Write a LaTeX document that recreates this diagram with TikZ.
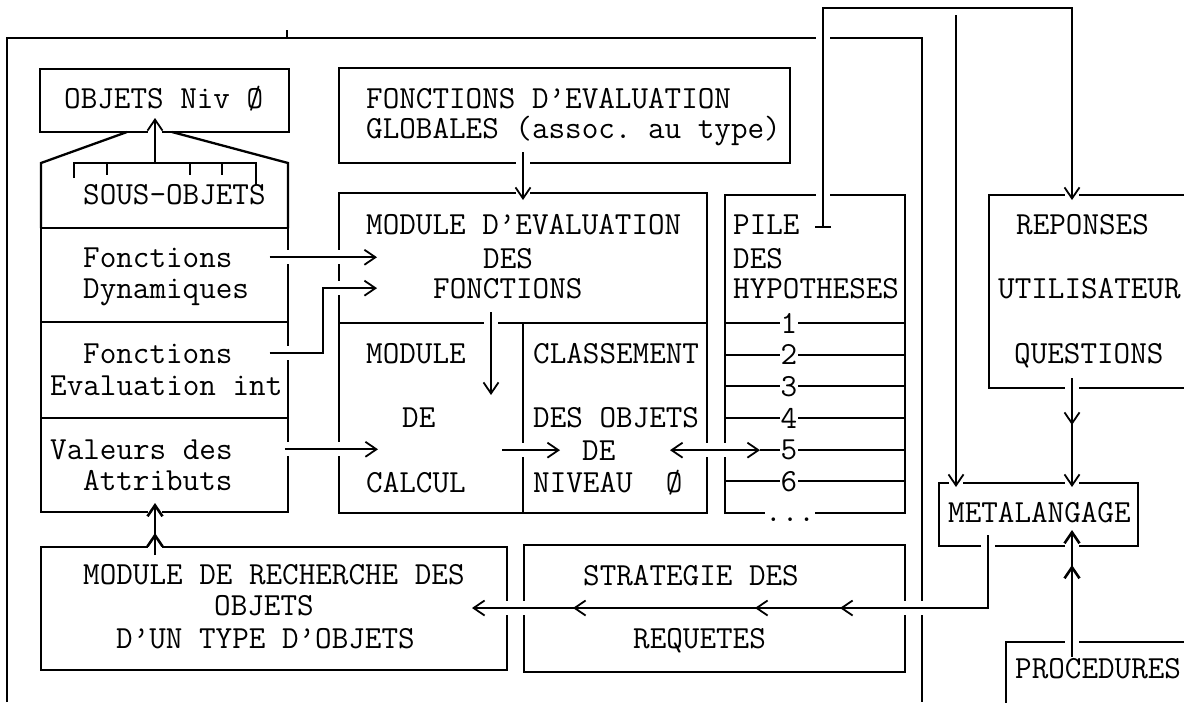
\documentclass[tikz,border=0pt]{standalone}
\usepackage{fontspec}
\usetikzlibrary{arrows.meta,calc,decorations.markings}
\pgfdeclarelayer{background}
\pgfsetlayers{background,main}

\newcommand\tw{\ttfamily\fontsize{32.2}{33}\selectfont\frenchspacing}

\tikzset{
  box/.style={draw, line width=2.3pt, inner sep=0pt, outer sep=0pt, anchor=north west},
  txt/.style={font=\tw, inner sep=0pt, anchor=base west},
  wire/.style={line width=1.8pt, preaction={draw=white, line width=14pt, -}},
  heavy/.style={line width=2.6pt},
  midhead/.style={postaction={decorate},
    decoration={markings, mark=at position #1 with {\arrow{>}}}},
  >={Straight Barb[length=11pt,width=15pt]}
}

\begin{document}
\begin{tikzpicture}[x=1pt,y=-1pt]
\useasboundingbox (0,0) rectangle (1184,702);

% textes
\node[txt] (objt) at (64,108) {OBJETS Niv Ø};
\node[txt] (sous) at (83,204) {SOUS-OBJETS};
\node[txt] (fonc1) at (83,267) {Fonctions};
\node[txt] (dyna) at (83,298) {Dynamiques};
\node[txt] (fonc2) at (83,363) {Fonctions};
\node[txt] (evint) at (50,395) {Evaluation int};
\node[txt] (valt) at (50,459) {Valeurs des};
\node[txt] (attr) at (83,490) {Attributs};
\node[txt] (globt) at (366,108) {FONCTIONS D’EVALUATION};
\node[txt] (globt2) at (366,138) {GLOBALES (assoc. au type)};
\node[txt] (mevt) at (366,234) {MODULE D’EVALUATION};
\node[txt] (mevt2) at (483,268) {DES};
\node[txt] (mevt3) at (433,298) {FONCTIONS};
\node[txt] (calt) at (366,363) {MODULE};
\node[txt] (calt2) at (402,427) {DE};
\node[txt] (calt3) at (366,492) {CALCUL};
\node[txt] (clat) at (533,363) {CLASSEMENT};
\node[txt] (clat2) at (533,427) {DES OBJETS};
\node[txt] (clat3) at (582,460) {DE};
\node[txt] (clat4) at (533,492) {NIVEAU\ \ Ø};
\node[txt] (pilet) at (733,234) {PILE};
\node[txt] (pilet2) at (733,268) {DES};
\node[txt] (pilet3) at (733,298) {HYPOTHESES};
\node[txt] (rept) at (1016,234) {REPONSES};
\node[txt] (rept2) at (998,298) {UTILISATEUR};
\node[txt] (rept3) at (1014,363) {QUESTIONS};
\node[txt] (metat) at (948,522) {METALANGAGE};
\node[txt] (proct) at (1015,678) {PROCEDURES};
\node[txt] (recht) at (83,584) {MODULE DE RECHERCHE DES};
\node[txt] (recht2) at (214,615) {OBJETS};
\node[txt] (recht3) at (116,648) {D’UN TYPE D’OBJETS};
\node[txt] (stratt) at (583,585) {STRATEGIE DES};
\node[txt] (stratt2) at (633,648) {REQUETES};

\begin{pgfonlayer}{background}
% cadre general
\draw[line width=2pt] (7,702) -- (7,38) -- (922,38) -- (922,702);
\draw[line width=1.5pt] (287,30) -- (287,38);

% boites
\node[box, minimum width=249pt, minimum height=63pt] (obj) at (40,69) {};
\node[box, minimum width=247pt, minimum height=94pt] (dyn) at (41,228) {};
\node[box, minimum width=247pt, minimum height=96pt] (evi) at (41,322) {};
\node[box, minimum width=247pt, minimum height=94pt] (val) at (41,418) {};
\node[box, minimum width=451pt, minimum height=95pt] (glob) at (339,68) {};
\node[box, minimum width=368pt, minimum height=130pt] (modeval) at (339,193) {};
\node[box, minimum width=184pt, minimum height=190pt] (calc) at (339,323) {};
\node[box, minimum width=184pt, minimum height=190pt] (clas) at (523,323) {};
\node[box, minimum width=180pt, minimum height=318pt] (pile) at (725,195) {};
\node[box, minimum width=260pt, minimum height=193pt] (rep) at (989,195) {};
\node[box, minimum width=199pt, minimum height=63pt] (meta) at (939,483) {};
\node[box, minimum width=250pt, minimum height=100pt] (proc) at (1006,642) {};
\node[box, minimum width=466pt, minimum height=123pt] (rech) at (41,547) {};
\node[box, minimum width=381pt, minimum height=127pt] (strat) at (524,545) {};

% sous-objets
\draw[line width=2.3pt] ($(obj.south west)+(87,0)$) -- (41,163) -- (dyn.north west);
\draw[line width=2.3pt] ($(obj.south west)+(132,0)$) -- (288,163) -- (dyn.north east);
\coordinate (sousb) at (155,163);

% pile des hypotheses
\foreach \k/\lab in {0/1,1/2,2/3,3/4,4/5,5/6}{
  \coordinate (r\k) at ($(pile.north west)+(0,{128+31.67*\k})$);
  \draw[line width=2pt] (r\k) -- ++(180,0);
  \node[font=\tw, fill=white, inner sep=1pt] (lab\k) at ($(r\k)+(64,0)$) {\lab};
}
\node[txt, fill=white, text height=14pt] (dots) at (765,521) {...};

% liaisons
\draw[wire,->] ($(fonc1.east)+(37,0)$) -- ($(modeval.west |- fonc1.east)+(38,0)$);
\draw[wire,->] ($(fonc2.east)+(37,0)$) -| ($(modeval.west |- mevt3.west)+(-16,0)$)
  -- ($(modeval.west |- mevt3.west)+(38,0)$);
\draw[wire,->] ($(valt.east)+(52,0)$) -- ($(calc.west |- valt.east)+(39,0)$);
\draw[wire,->] ($(calc.east |- clat3.west)+(-21,0)$) -- ($(clat3.west)+(-22,0)$);
\draw[wire,<->] ($(clas.east |- clat3.west)+(-37,0)$) -- ($(pile.west |- clat3.west)+(35,0)$);
\draw[wire,->] ($(glob.south west)+(184,-11)$) -- ($(modeval.north west)+(184,7)$);
\draw[wire,->] ($(modeval.south west)+(152,-11)$) -- ($(calc.north west)+(152,72)$);
\draw[wire,heavy,->,midhead=22pt] ($(rech.north west)+(114,8)$) -- ($(val.south west)+(114,-9)$);
\draw[wire,->] (sousb) -- ($(obj.south west)+(115,-14)$);

\coordinate (pilehook) at ($(pile.north west)+(98,33)$);
\coordinate (topl) at (823,8);
\coordinate (topm) at (956,8);
\draw[wire,->] (topm) -- ($(meta.north west)+(17,4)$);
\draw[wire,{Bar[width=16pt]}->] (pilehook) -- (topl) -| ($(rep.north west)+(83,5)$);
\draw[wire,->,midhead=47pt] ($(rep.south west)+(83,-10)$) -- ($(meta.north west)+(133,4)$);
\draw[wire,heavy,->,midhead=92pt] ($(proc.north west)+(66,15)$) -- ($(meta.south west)+(133,-16)$);
\draw[wire,->,postaction={decorate},
  decoration={markings,
    mark=at position 221pt with {\arrow{>}},
    mark=at position 306pt with {\arrow{>}},
    mark=at position 488pt with {\arrow{>}}}]
  ($(meta.south west)+(49,-11)$) |- ($(rech.north east)+(-35,61)$);

% crochet des sous-objets
\draw[line width=1.8pt] (74,178) -- (sousb -| 74,0) -- (256,163) -- (256,185);
\foreach \x in {107,190,222}
  \draw[line width=1.8pt] (\x,163) -- (\x,175);
\end{pgfonlayer}
\end{tikzpicture}
\end{document}
